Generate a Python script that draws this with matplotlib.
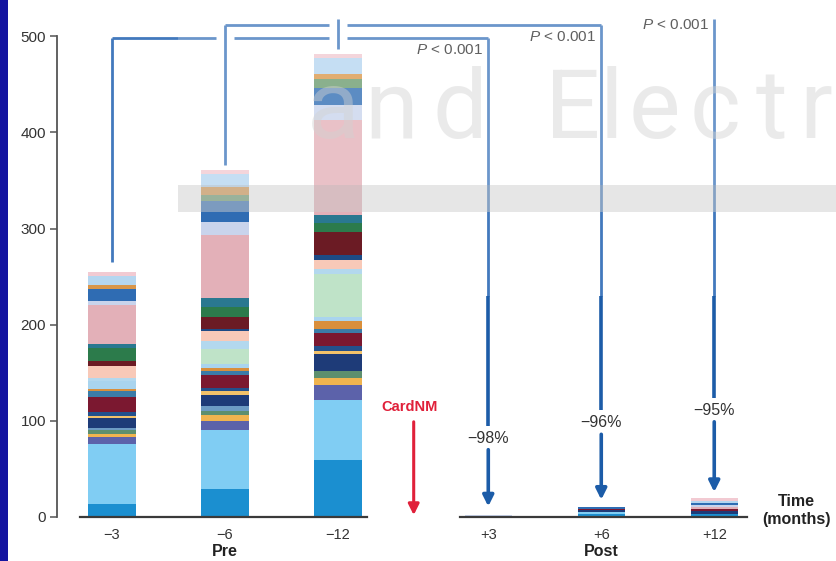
import numpy as np
import matplotlib.pyplot as plt
from matplotlib.patches import Rectangle

plt.rcParams['font.family'] = ['Liberation Sans', 'DejaVu Sans']
plt.rcParams['mathtext.fontset'] = 'custom'
plt.rcParams['mathtext.it'] = 'Liberation Sans:italic'
plt.rcParams['mathtext.rm'] = 'Liberation Sans'

# time points (months) and bar positions
pre_labels = ['\u22123', '\u22126', '\u221212']
post_labels = ['+3', '+6', '+12']
pre_x = [0, 1, 2]
post_x = [3.33, 4.33, 5.33]
cardnm_x = 2.67

# stacked segment colours, bottom to top
seg_colors = ['#1b8fd0', '#80cdf3', '#5c62aa', '#f0b44f', '#5d8f6e', '#6d9bc4',
              '#1e3b78', '#f3c26a', '#23508c', '#7b1830', '#3b7ca8', '#d98f3c',
              '#a9d4ee', '#bfe3c8', '#b3d8ee', '#f8c9b8', '#1d4a85', '#6b1b24',
              '#2c7b4b', '#2a7890', '#e3b0b8', '#c9d4ec', '#2f6cb3', '#6a9a6e',
              '#d9964a', '#b5d6f0', '#f2cad2']

# segment sizes per bar (same order as seg_colors)
m3 = [14, 62, 7, 3, 4, 3, 10, 2, 4, 16, 6, 2, 8, 0, 4, 12, 0, 5, 14, 4, 40, 5, 12, 0, 4, 10, 4]
m6 = [29, 62, 9, 6, 4, 5, 12, 4, 3, 14, 4, 3, 4, 16, 8, 10, 3, 12, 10, 10, 65, 14, 22, 6, 8, 14, 4]
m12 = [59, 63, 15, 8, 7, 0, 18, 3, 5, 13, 5, 8, 4, 45, 5, 9, 5, 24, 10, 8, 99, 15, 18, 10, 5, 16, 5]
p3 = [0.5, 0, 0, 0, 0, 0, 0, 0, 0, 0, 0, 0, 0, 0, 0, 0, 0, 0, 0, 0, 1, 1, 0, 0, 0, 0, 0]
p6 = [3, 2, 0, 0, 0, 0, 2, 0, 0, 1, 0, 0, 0, 0, 0, 0, 0, 0, 0, 0, 0, 0, 2, 0, 0, 0, 0]
p12 = [3, 0, 0, 0, 0, 0, 3, 0, 0, 2, 0, 0, 0, 0, 0, 0, 0, 0, 0, 0, 2, 3, 2, 0, 0, 2, 3]

changes = ['\u221298%', '\u221296%', '\u221295%']

blue = '#4279bd'
dark_blue = '#1c5ca8'

fig = plt.figure(figsize=(8.37, 5.61), dpi=100)
ax = fig.add_axes([57/837, 44/561, 723/837, 500/561])

xs = pre_x + post_x
data = np.array([m3, m6, m12, p3, p6, p12], dtype=float)
bottom = np.zeros(len(xs))
for i, c in enumerate(seg_colors):
    ax.bar(xs, data[:, i], bottom=bottom, width=0.42, color=c, linewidth=0, zorder=2)
    bottom += data[:, i]
tops = bottom

ax.set_xlim(-0.487, 5.912)
ax.set_ylim(0, 520)

for s in ['top', 'right', 'bottom']:
    ax.spines[s].set_visible(False)
ax.spines['left'].set_bounds(0, 500)
ax.spines['left'].set_color('#555555')
ax.spines['left'].set_linewidth(1.3)
ax.set_yticks([0, 100, 200, 300, 400, 500])
ax.tick_params(axis='y', length=5, width=1.1, color='#555555', labelsize=11,
               labelcolor='#333333', pad=3)
ax.set_xticks(xs)
ax.set_xticklabels(pre_labels + post_labels)
ax.tick_params(axis='x', length=0, labelsize=10.5, labelcolor='#333333', pad=8)

# baselines
ax.plot([-0.28, 2.26], [0, 0], color='#3a3a3a', lw=1.6, zorder=3, clip_on=False)
ax.plot([3.08, 5.62], [0, 0], color='#3a3a3a', lw=1.6, zorder=3, clip_on=False)

ax.text(1, -36, 'Pre', ha='center', va='center', fontsize=11.5, fontweight='bold',
        color='#222222')
ax.text(4.33, -36, 'Post', ha='center', va='center', fontsize=11.5, fontweight='bold',
        color='#222222')
ax.text(6.06, 7, 'Time\n(months)', ha='center', va='center', fontsize=11.5,
        fontweight='bold', color='#222222', linespacing=1.25, clip_on=False)

# comparison brackets
y1, y2, y3 = 498, 512, 518
g = 0.08
kw = dict(color=blue, lw=2, clip_on=False, zorder=4, solid_capstyle='butt')
ax.plot([0, 0], [tops[0] + 10, y1], **kw)
ax.plot([0, 1 - g], [y1, y1], **kw)
ax.plot([1 + g, 2 - g], [y1, y1], **kw)
ax.plot([2 + g, post_x[0]], [y1, y1], **kw)
ax.plot([1, 1], [tops[1] + 5, y2], **kw)
ax.plot([1, 2 - g], [y2, y2], **kw)
ax.plot([2 + g, post_x[1]], [y2, y2], **kw)
ax.plot([2, 2], [tops[2] + 5, y3], **kw)

starts = [y1, y2, y3]
text_y = [82, 98, 111]
p_y = [486, 499, 512]
tips = [11, 18, 26]
shaft_top = 230
for x, st, ty, py, tip, lab in zip(post_x, starts, text_y, p_y, tips, changes):
    ax.plot([x, x], [st, shaft_top], **kw)
    ax.plot([x, x], [shaft_top, ty + 13], color=dark_blue, lw=2.6,
            solid_capstyle='butt', zorder=4)
    ax.annotate('', xy=(x, tip), xytext=(x, ty - 12),
                arrowprops=dict(arrowstyle='-|>', color=dark_blue, lw=2.6,
                                mutation_scale=16, shrinkA=0, shrinkB=0),
                zorder=4)
    ax.text(x, ty, lab, ha='center', va='center', fontsize=11.5, color='#333333')
    ax.text(x - 0.05, py, r'$P$ < 0.001', ha='right', va='center', fontsize=11,
            color='#333333', clip_on=False)

# treatment marker
ax.text(cardnm_x - 0.04, 114, 'CardNM', ha='center', va='center', fontsize=10.5,
        fontweight='bold', color='#e0203a')
ax.annotate('', xy=(cardnm_x, 2), xytext=(cardnm_x, 99),
            arrowprops=dict(arrowstyle='-|>', color='#e0203a', lw=2.2,
                            mutation_scale=16, shrinkA=0, shrinkB=0))

# slide overlays: haze, grey band, watermark, blue border
fig.patches.append(Rectangle((178/837, (561-212)/561), 1, 1, transform=fig.transFigure,
                             facecolor='white', alpha=0.22, linewidth=0, zorder=5))
fig.patches.append(Rectangle((178/837, (561-212)/561), 1, 27/561, transform=fig.transFigure,
                             facecolor='#b8b8b8', alpha=0.35, linewidth=0, zorder=5))
wm_chars = ['a', 'n', 'd', 'E', 'l', 'e', 'c', 't', 'r']
wm_left = [307, 364, 433, 545, 600, 629, 690, 756, 799]
for ch, px in zip(wm_chars, wm_left):
    fig.text(px/837, (561-138)/561, ch, fontsize=70, family='Roboto',
             fontweight='normal', color='#d2d2d2', alpha=0.45, va='baseline', zorder=6)
fig.patches.append(Rectangle((0, 0), 8/837, 1, transform=fig.transFigure,
                             facecolor='#1414a0', linewidth=0, zorder=6))

fig.savefig('out.png', dpi=100)
